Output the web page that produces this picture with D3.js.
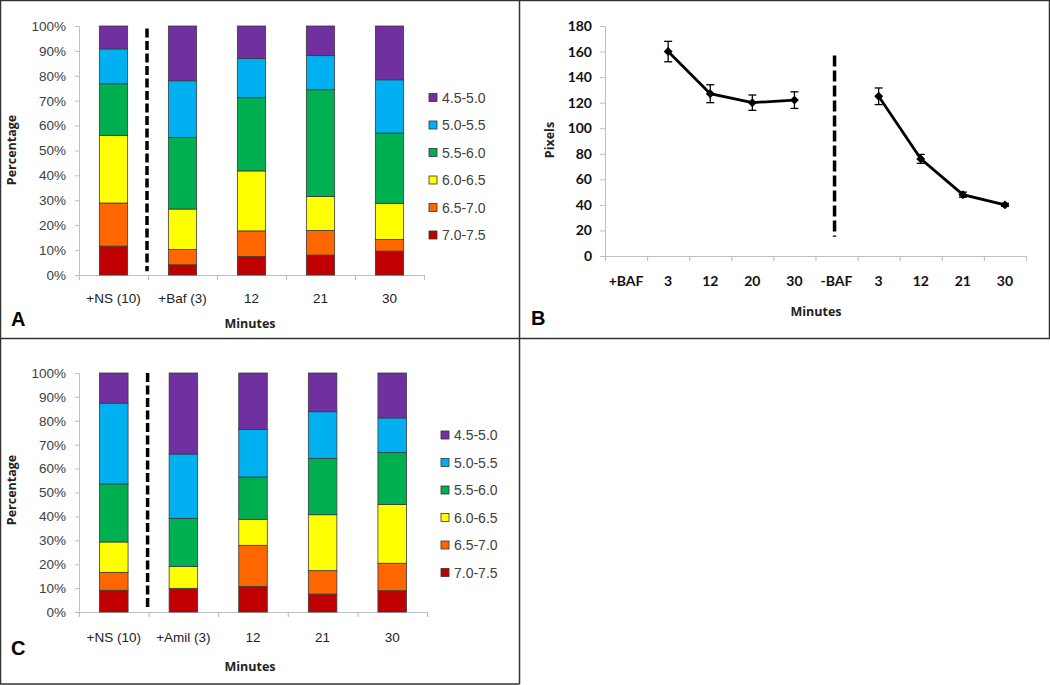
<!DOCTYPE html>
<html><head><meta charset="utf-8">
<script src="https://cdn.jsdelivr.net/npm/d3@7"></script>
<style>
body{margin:0;background:#fff;}
svg{display:block;}
</style></head>
<body>
<svg id="c" width="1050" height="685"></svg>
<script>
// ---------- DATA ----------
const ranges = ["7.0-7.5","6.5-7.0","6.0-6.5","5.5-6.0","5.0-5.5","4.5-5.0"];
const rangeColors = ["#C00000","#FF6600","#FFFF00","#00B050","#00B0F0","#7030A0"];
const legendOrder = ["4.5-5.0","5.0-5.5","5.5-6.0","6.0-6.5","6.5-7.0","7.0-7.5"];

const catsA = ["+NS (10)","+Baf (3)","12","21","30"];
// segments per category, order = ranges (7.0-7.5 bottom ... 4.5-5.0 top), in %
const valuesA = [
  [11.6,17.3,27.2,20.7,14.0,9.2],
  [4.1,6.1,16.3,28.7,22.8,22.0],
  [7.4,10.3,24.1,29.4,15.7,13.1],
  [8.0,9.9,13.6,42.9,13.7,11.9],
  [9.6,4.7,14.5,28.2,21.4,21.6]
];
const catsC = ["+NS (10)","+Amil (3)","12","21","30"];
const valuesC = [
  [9.1,7.5,12.7,24.3,33.8,12.6],
  [9.9,0,9.1,20.2,26.9,33.9],
  [10.7,17.2,10.9,17.7,19.9,23.6],
  [7.5,9.8,23.4,23.6,19.5,16.2],
  [8.9,11.5,24.6,21.7,14.5,18.8]
];
const pctTicks = [0,10,20,30,40,50,60,70,80,90,100];

const catsB = ["+BAF","3","12","20","30","-BAF","3 ","12 ","21","30 "];
const catsBLabels = ["+BAF","3","12","20","30","-BAF","3","12","21","30"];
const seriesB1 = [{c:"3",v:160,e:8},{c:"12",v:127,e:7},{c:"20",v:120,e:6},{c:"30",v:122,e:6.5}];
const seriesB2 = [{c:"3 ",v:125,e:6.5},{c:"12 ",v:76,e:3.5},{c:"21",v:48,e:2},{c:"30 ",v:40,e:1.2}];
const pixTicks = [0,20,40,60,80,100,120,140,160,180];

// ---------- DRAW ----------
const svg = d3.select("#c");
const axisGrey = "#bfbfbf";
const textGrey = "#404040";

// panel frames
svg.append("path").attr("d","M0.5,0.5 H1049.5 V338.5 H0.5 Z").attr("fill","none").attr("stroke","#333").attr("stroke-width",1.5);
svg.append("line").attr("x1",519.5).attr("x2",519.5).attr("y1",0).attr("y2",684).attr("stroke","#333").attr("stroke-width",1.5);
svg.append("path").attr("d","M0.5,338.5 V684 H519.5").attr("fill","none").attr("stroke","#333").attr("stroke-width",1.5);

function stacked(opts){
  const {cats, values, x0, x1, yTop, yBot, dash, legendX, legendY, label, labelY, minutesY, catY, percY} = opts;
  const g = svg.append("g");
  const x = d3.scaleBand().domain(cats).range([x0,x1]).padding(0);
  const y = d3.scaleLinear().domain([0,100]).range([yBot,yTop]);
  // y axis
  const ya = g.append("g").attr("transform",`translate(${x0},0)`)
    .call(d3.axisLeft(y).tickValues(pctTicks).tickFormat(d=>d+"%").tickSize(4).tickPadding(9));
  ya.select(".domain").attr("stroke",axisGrey);
  ya.selectAll(".tick line").attr("stroke",axisGrey);
  ya.selectAll("text").attr("font-family","Liberation Sans, Arial, sans-serif").attr("font-size",13.5).attr("fill",textGrey);
  // x axis line + boundary ticks
  g.append("line").attr("x1",x0).attr("x2",x1).attr("y1",yBot+0.5).attr("y2",yBot+0.5).attr("stroke",axisGrey).attr("stroke-width",1.2);
  const bounds = cats.map(c=>x(c)).concat([x(cats[cats.length-1])+x.bandwidth()]);
  g.selectAll(".bt").data(bounds).enter().append("line")
    .attr("x1",d=>d+0.5).attr("x2",d=>d+0.5).attr("y1",yBot).attr("y2",yBot+5).attr("stroke",axisGrey).attr("stroke-width",1.2);
  // bars
  const bw = x.bandwidth()*0.41;
  cats.forEach((c,i)=>{
    let acc = 0;
    values[i].forEach((v,j)=>{
      if(v>0){
        g.append("rect").attr("x",x(c)+x.bandwidth()/2-bw/2).attr("width",bw)
          .attr("y",y(acc+v)).attr("height",y(acc)-y(acc+v))
          .attr("fill",rangeColors[j]).attr("stroke","#3a3a3a").attr("stroke-width",0.8);
      }
      acc += v;
    });
  });
  // category labels
  g.selectAll(".cl").data(cats).enter().append("text")
    .attr("x",d=>x(d)+x.bandwidth()/2).attr("y",catY).attr("text-anchor","middle")
    .attr("font-family","Liberation Sans, Arial, sans-serif").attr("font-size",13.5).attr("fill","#222").text(d=>d);
  // dashed separator
  g.append("line").attr("x1",x(cats[1])-1).attr("x2",x(cats[1])-1).attr("y1",y(dash[1])).attr("y2",y(dash[0]))
    .attr("stroke","#000").attr("stroke-width",3.5).attr("stroke-dasharray","9,3.5");
  // legend
  legendOrder.forEach((r,i)=>{
    const ci = ranges.indexOf(r);
    const yy = legendY + i*27.5;
    g.append("rect").attr("x",legendX).attr("y",yy-4).attr("width",8).attr("height",8)
      .attr("fill",rangeColors[ci]).attr("stroke","#333").attr("stroke-width",0.8);
    g.append("text").attr("x",legendX+13).attr("y",yy+5).attr("font-family","Liberation Sans, Arial, sans-serif")
      .attr("font-size",14).attr("fill",textGrey).text(r);
  });
  // axis titles
  g.append("text").attr("transform",`translate(16,${percY}) rotate(-90)`).attr("text-anchor","middle")
    .attr("font-family","Open Sans, sans-serif").attr("font-weight","bold").attr("font-size",12.5).attr("fill","#222").text("Percentage");
  g.append("text").attr("x",250).attr("y",minutesY).attr("text-anchor","middle")
    .attr("font-family","Open Sans, sans-serif").attr("font-weight","bold").attr("font-size",12.5).attr("fill","#222").text("Minutes");
  g.append("text").attr("x",11).attr("y",labelY).attr("font-family","Liberation Sans, Arial, sans-serif")
    .attr("font-weight","bold").attr("font-size",20).attr("fill","#000").text(label);
}

stacked({cats:catsA, values:valuesA, x0:79, x1:424, yTop:26, yBot:275, dash:[1.5,99],
  legendX:429, legendY:97.5, label:"A", labelY:326, minutesY:328, catY:303, percY:150});
stacked({cats:catsC, values:valuesC, x0:79, x1:427, yTop:373, yBot:612, dash:[1,100],
  legendX:441, legendY:435, label:"C", labelY:655, minutesY:671, catY:642, percY:490});

// ---------- Panel B ----------
(function(){
  const g = svg.append("g");
  const x = d3.scaleBand().domain(catsB).range([605,1026]).padding(0);
  const y = d3.scaleLinear().domain([0,180]).range([256,26]);
  const cx = c => x(c)+x.bandwidth()/2;
  const ya = g.append("g").attr("transform","translate(605,0)")
    .call(d3.axisLeft(y).tickValues(pixTicks).tickSize(5).tickPadding(8));
  ya.select(".domain").attr("stroke",axisGrey);
  ya.selectAll(".tick line").attr("stroke",axisGrey);
  ya.selectAll("text").attr("font-family","Lato, sans-serif").attr("font-weight","bold").attr("font-size",14).attr("fill","#111");
  g.append("line").attr("x1",605).attr("x2",1026).attr("y1",256.5).attr("y2",256.5).attr("stroke",axisGrey).attr("stroke-width",1.2);
  const bounds = catsB.map(c=>x(c)).concat([1026]);
  g.selectAll(".bt").data(bounds).enter().append("line")
    .attr("x1",d=>d+0.5).attr("x2",d=>d+0.5).attr("y1",256).attr("y2",261).attr("stroke",axisGrey).attr("stroke-width",1.2);
  g.selectAll(".cl").data(catsB).enter().append("text")
    .attr("x",d=>cx(d)).attr("y",286).attr("text-anchor","middle")
    .attr("font-family","Lato, sans-serif").attr("font-weight","bold").attr("font-size",14).attr("fill","#111")
    .text((d,i)=>catsBLabels[i]);
  // dashed separator
  g.append("line").attr("x1",cx("-BAF")-2).attr("x2",cx("-BAF")-2).attr("y1",y(157)).attr("y2",y(15))
    .attr("stroke","#000").attr("stroke-width",3.5).attr("stroke-dasharray","11,4");
  const line = d3.line().x(d=>cx(d.c)).y(d=>y(d.v));
  [seriesB1, seriesB2].forEach(s=>{
    g.append("path").datum(s).attr("d",line).attr("fill","none").attr("stroke","#000").attr("stroke-width",2.8);
    s.forEach(d=>{
      const xx = cx(d.c);
      g.append("line").attr("x1",xx).attr("x2",xx).attr("y1",y(d.v+d.e)).attr("y2",y(d.v-d.e)).attr("stroke","#000").attr("stroke-width",1.3);
      [d.v+d.e, d.v-d.e].forEach(v=>g.append("line").attr("x1",xx-4).attr("x2",xx+4).attr("y1",y(v)).attr("y2",y(v)).attr("stroke","#000").attr("stroke-width",1.3));
      g.append("path").attr("d",d3.symbol(d3.symbolSquare,40)()).attr("transform",`translate(${xx},${y(d.v)}) rotate(45)`).attr("fill","#000");
    });
  });
  g.append("text").attr("transform","translate(554,140) rotate(-90)").attr("text-anchor","middle")
    .attr("font-family","Open Sans, sans-serif").attr("font-weight","bold").attr("font-size",12.5).attr("fill","#222").text("Pixels");
  g.append("text").attr("x",816).attr("y",316).attr("text-anchor","middle")
    .attr("font-family","Open Sans, sans-serif").attr("font-weight","bold").attr("font-size",12.5).attr("fill","#222").text("Minutes");
  g.append("text").attr("x",531).attr("y",325).attr("font-family","Liberation Sans, Arial, sans-serif")
    .attr("font-weight","bold").attr("font-size",20).attr("fill","#000").text("B");
})();
</script>
</body></html>
